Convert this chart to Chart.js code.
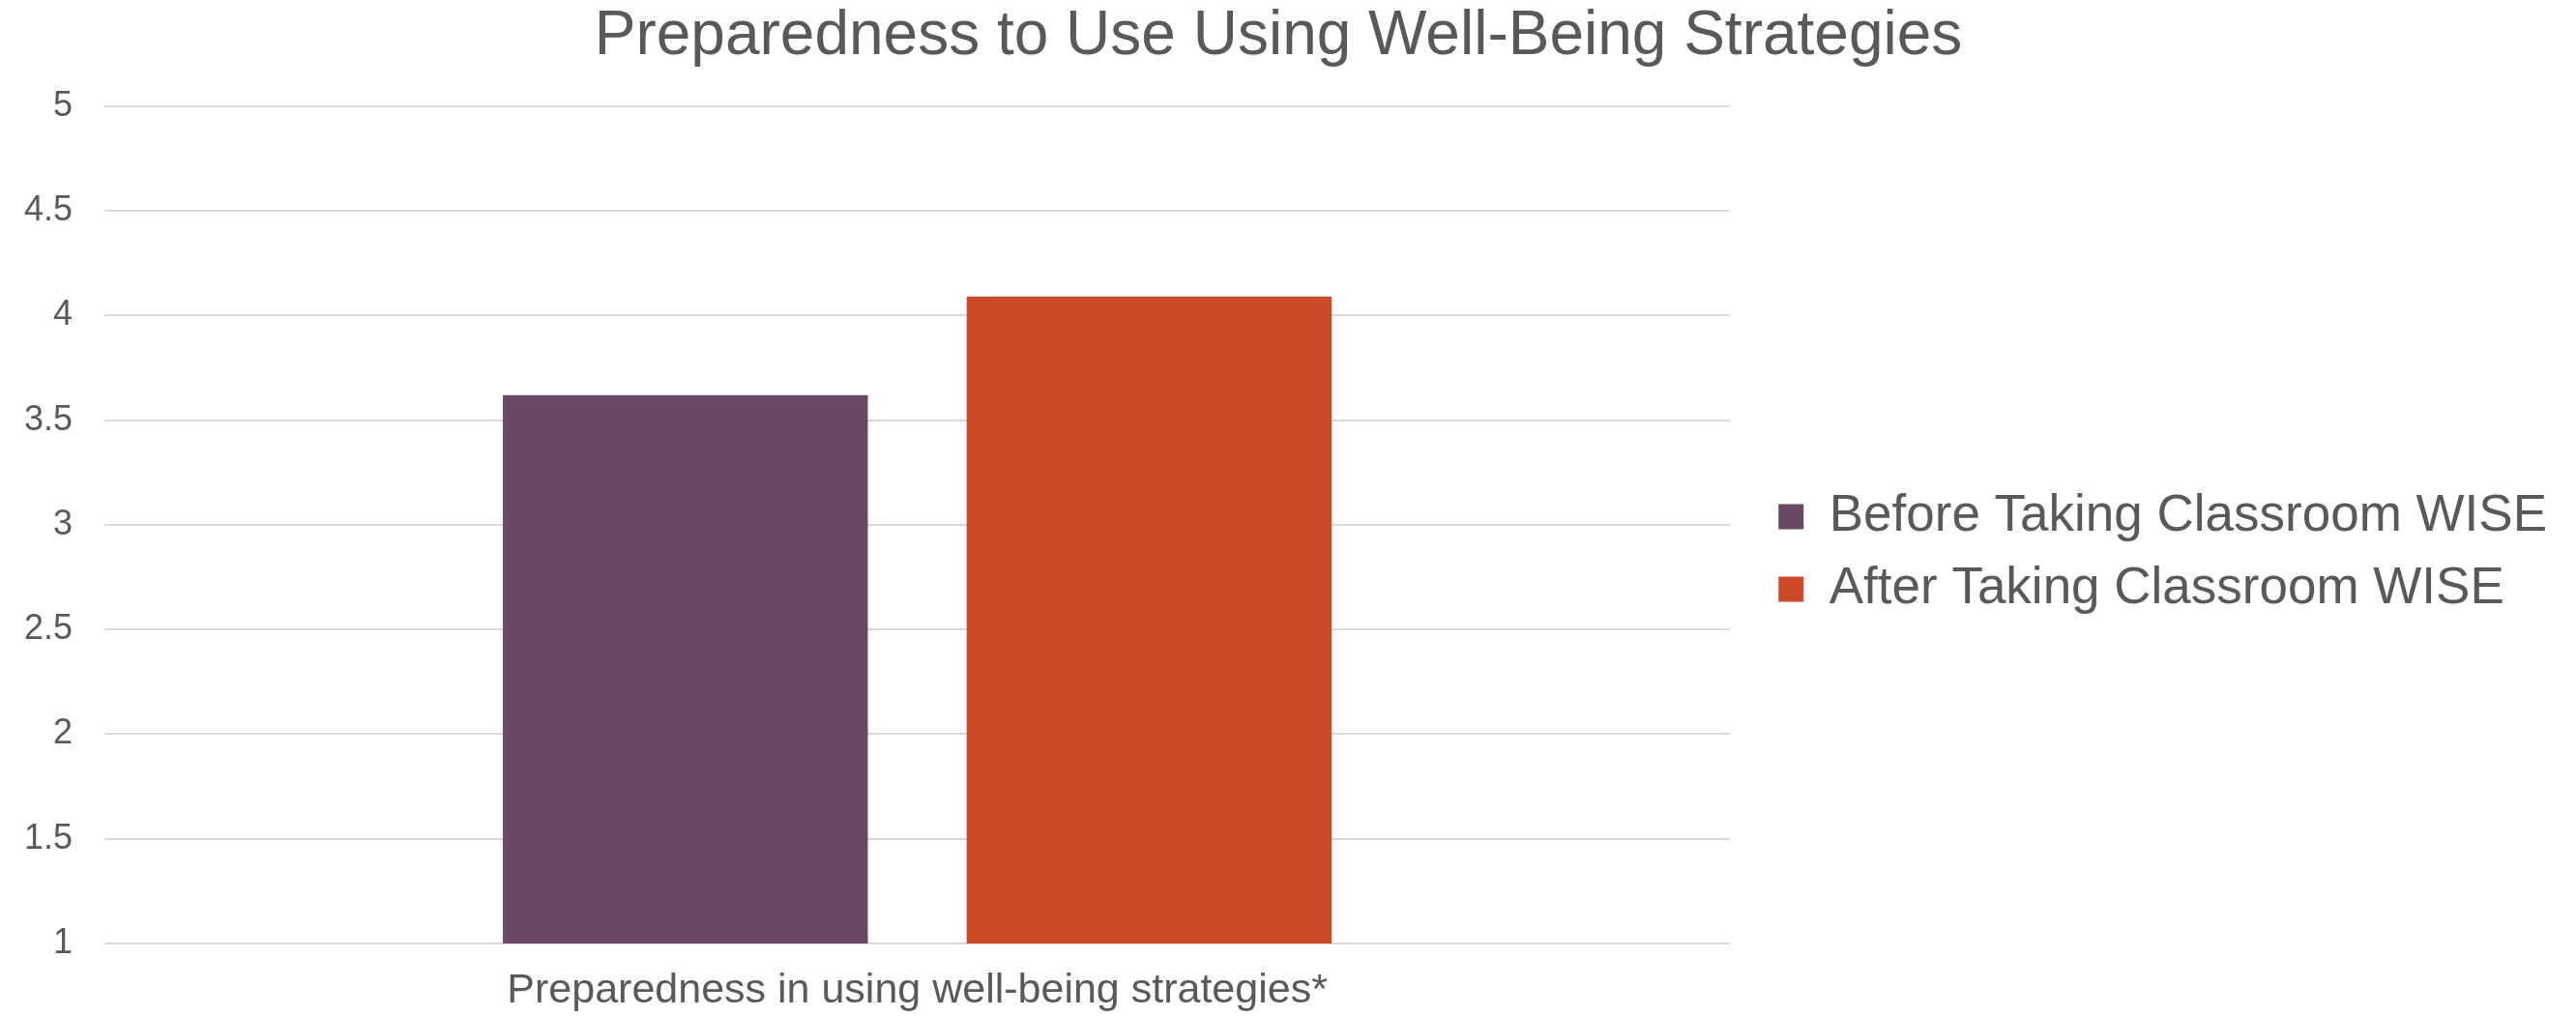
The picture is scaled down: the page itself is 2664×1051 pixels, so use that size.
<!DOCTYPE html>
<html>
<head>
<meta charset="utf-8">
<title>Preparedness to Use Using Well-Being Strategies</title>
<script src="https://cdn.jsdelivr.net/npm/chart.js@4.4.1/dist/chart.umd.min.js"></script>
<style>
  html, body { margin: 0; padding: 0; background: #ffffff; }
  #wrap { width: 2664px; height: 1051px; }
</style>
</head>
<body>
<div id="wrap"><canvas id="prepChart" width="2664" height="1051"></canvas></div>
<script>
// survey means, 1-5 scale
const categories = ['Preparedness in using well-being strategies*'];
const seriesNames = ['Before Taking Classroom WISE', 'After Taking Classroom WISE'];
const beforeValues = [3.62];
const afterValues = [4.09];
const yTickValues = [1, 1.5, 2, 2.5, 3, 3.5, 4, 4.5, 5];

const TEXT = '#595959';
const GRID = '#d9d9d9';
const FONT = '"Liberation Sans", Arial, sans-serif';

const ctx = document.getElementById('prepChart').getContext('2d');
const chart = new Chart(ctx, {
  type: 'bar',
  data: {
    labels: categories,
    datasets: [
      { label: seriesNames[0], data: beforeValues, backgroundColor: '#6a4a62' },
      { label: seriesNames[1], data: afterValues, backgroundColor: '#cb4a27' }
    ]
  },
  options: {
    responsive: false,
    animation: false,
    devicePixelRatio: 1,
    categoryPercentage: 0.5706,
    barPercentage: 0.787,
    layout: { padding: { left: 0, right: 20, top: 0, bottom: 0 } },
    plugins: {
      title: {
        display: true,
        text: 'Preparedness to Use Using Well-Being Strategies',
        color: TEXT,
        font: { family: FONT, size: 64, weight: 'normal', lineHeight: 1.2 },
        padding: { top: 0, bottom: 33 }
      },
      legend: {
        position: 'right',
        align: 'center',
        maxWidth: 900, // otherwise it gets squeezed by the axis boxes
        // empty title just pushes the entries down a bit
        title: { display: true, text: '', font: { size: 10, lineHeight: 1 }, padding: { top: 83, bottom: 0 } },
        labels: {
          color: TEXT,
          boxWidth: 26,
          boxHeight: 26,
          padding: 22,
          font: { family: FONT, size: 53 }
        }
      },
      tooltip: { enabled: false }
    },
    scales: {
      x: {
        grid: { display: false, drawTicks: false },
        border: { display: false },
        ticks: { color: TEXT, padding: 23, font: { family: FONT, size: 43 } },
        afterFit: s => { s.height = 75; }
      },
      y: {
        min: 1,
        max: 5,
        afterBuildTicks: s => { s.ticks = yTickValues.map(v => ({ value: v })); },
        grid: { color: GRID, lineWidth: 2, drawTicks: false },
        border: { display: false },
        ticks: {
          color: TEXT,
          padding: 33,
          font: { family: FONT, size: 36 },
          callback: v => String(v)
        },
        afterFit: s => { s.width = 108; }
      },
      // spacer between plot and legend
      gap: {
        type: 'linear',
        position: 'right',
        grid: { display: false, drawTicks: false },
        border: { display: false },
        ticks: { display: false },
        afterFit: s => { s.width = 28; }
      }
    }
  }
});
</script>
</body>
</html>
